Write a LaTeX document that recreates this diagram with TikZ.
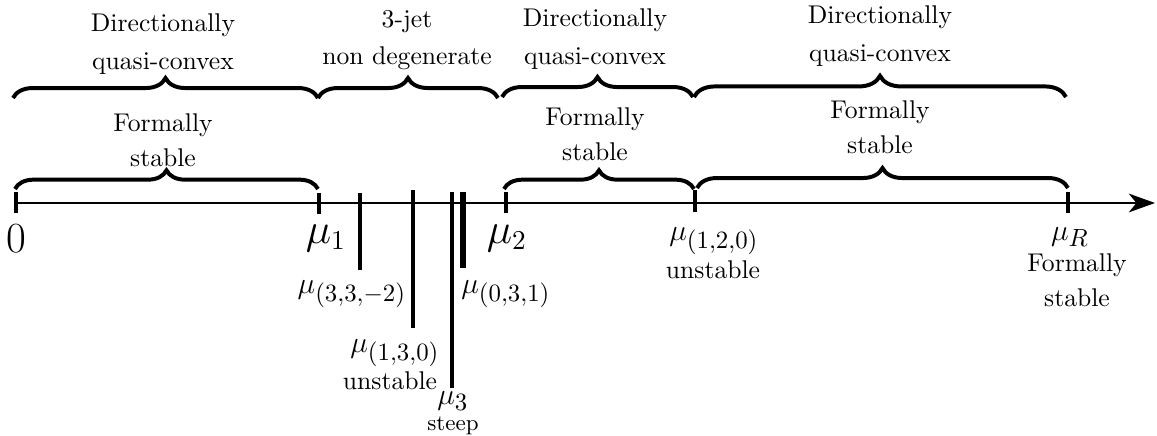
\documentclass[tikz,border=0pt]{standalone}
\usetikzlibrary{decorations.pathreplacing,arrows.meta}
\newcommand{\mulab}[1]{\ensuremath{\mu_{\mbox{\normalsize$#1$}}}}
\begin{document}
\begin{tikzpicture}[x=0.402pt,y=-0.402pt,
  tickmark/.style={line width=2pt},
  bracedeco/.style={decorate,decoration={brace,amplitude=#1,aspect=0.5},line width=1.6pt},
  bracedeco/.default=8pt,
  txt/.style={align=center,font=\fontsize{10.3}{15}\selectfont,inner sep=0pt},
  txtb/.style={align=center,font=\fontsize{10.3}{14}\selectfont,inner sep=0pt},
  lab/.style={inner sep=0pt,font=\fontsize{13}{15}\selectfont},
  biglab/.style={inner sep=0pt,font=\fontsize{16}{18}\selectfont},
  captxt/.style={inner sep=0pt,font=\fontsize{10.3}{12}\selectfont},
]
\useasboundingbox (0,0) rectangle (1157,436);

% axis
\coordinate (axs) at (14,203);
\coordinate (axe) at (1155,203);
\draw[line width=0.9pt,-{Stealth[length=10.5pt,width=7.5pt,inset=3pt]}] (axs) -- (axe);

% ticks and bars
\coordinate (t0a) at (16,192);   \coordinate (t0b) at (16,213);
\coordinate (t1a) at (319,193);  \coordinate (t1b) at (319,214);
\coordinate (ba) at (360,193);   \coordinate (bb) at (360,270);
\coordinate (ca) at (413,190);   \coordinate (cb) at (413,328);
\coordinate (da) at (452,192);   \coordinate (db) at (452,388);
\coordinate (ea) at (463,192);   \coordinate (eb) at (463,268);
\coordinate (t2a) at (506,192);  \coordinate (t2b) at (506,213);
\coordinate (fa) at (695,190);   \coordinate (fb) at (695,212);
\coordinate (ra) at (1068,192);  \coordinate (rb) at (1068,213);
\draw[tickmark] (t0a) -- (t0b);
\draw[tickmark] (t1a) -- (t1b);
\draw[tickmark] (ba) -- (bb);
\draw[tickmark] (ca) -- (cb);
\draw[tickmark] (da) -- (db);
\draw[line width=2.8pt] (ea) -- (eb);
\draw[tickmark] (t2a) -- (t2b);
\draw[tickmark] (fa) -- (fb);
\draw[tickmark] (ra) -- (rb);

% upper braces
\coordinate (u1a) at (13,98);   \coordinate (u1b) at (318,98);
\coordinate (u2a) at (318,98);  \coordinate (u2b) at (498,98);
\coordinate (u3a) at (502,97);  \coordinate (u3b) at (693,97);
\coordinate (u4a) at (694,97);  \coordinate (u4b) at (1066,97);
\draw[bracedeco] (u1a) -- (u1b);
\draw[bracedeco] (u2a) -- (u2b);
\draw[bracedeco] (u3a) -- (u3b);
\draw[bracedeco=8.5pt] (u4a) -- (u4b);

% lower braces
\coordinate (l1a) at (15,189);  \coordinate (l1b) at (318,189);
\coordinate (l2a) at (504,189); \coordinate (l2b) at (694,189);
\coordinate (l3a) at (697,188); \coordinate (l3b) at (1068,188);
\draw[bracedeco=7.5pt] (l1a) -- (l1b);
\draw[bracedeco=7.5pt] (l2a) -- (l2b);
\draw[bracedeco=8pt] (l3a) -- (l3b);

% upper texts
\node[txt] (tx1) at (163,44) {Directionally\\quasi-convex};
\node[txt] (tx2) at (407,40) {3-jet\\non degenerate};
\node[txt] (tx3) at (595,39) {Directionally\\quasi-convex};
\node[txt] (tx4) at (880,36) {Directionally\\quasi-convex};

% lower texts
\node[txtb] (fx1) at (163,140) {Formally\\stable};
\node[txtb] (fx2) at (595,134) {Formally\\stable};
\node[txtb] (fx3) at (880,127) {Formally\\stable};

% axis labels
\node[biglab] (l0) at (16,239) {$0$};
\node[biglab] (lm1) at (326,238) {$\mu_1$};
\node[biglab] (lm2) at (507,238) {$\mu_2$};
\node[lab] (lm332) at (352,294) {\mulab{(3{,}3{,}{-}2)}};
\node[lab] (lm031) at (506,294) {\mulab{(0{,}3{,}1)}};
\node[lab] (lm130) at (395,353) {\mulab{(1{,}3{,}0)}};
\node[captxt] (u130) at (390,381) {unstable};
\node[lab] (lm3) at (453,401) {\mulab{3}};
\node[captxt,font=\small] (st3) at (453,426) {steep};
\node[lab] (lm120) at (714,241) {\mulab{(1{,}2{,}0)}};
\node[captxt] (u120) at (713,270) {unstable};
\node[lab] (lmR) at (1070,237) {\mulab{R}};
\node[txtb] (fsR) at (1077,280) {Formally\\stable};
\end{tikzpicture}
\end{document}
